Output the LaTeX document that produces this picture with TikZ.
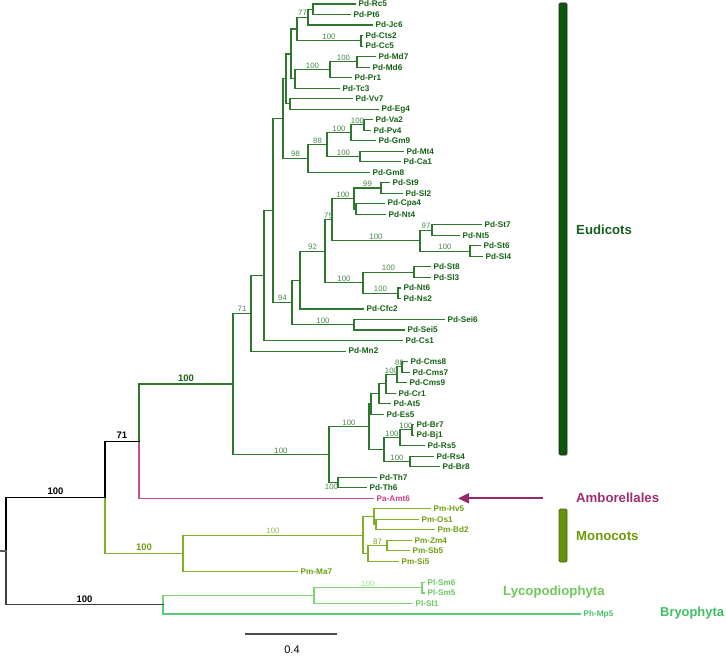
\documentclass[tikz,border=0pt]{standalone}
\usepackage{fontspec}
\setmainfont{Liberation Sans}
\usetikzlibrary{calc,arrows.meta}
\definecolor{eud}{RGB}{45,120,45}
\definecolor{eudt}{RGB}{20,98,20}
\definecolor{eudb}{RGB}{70,135,70}
\definecolor{eudbar}{RGB}{10,88,10}
\definecolor{eudlab}{RGB}{22,95,30}
\definecolor{amb}{RGB}{200,80,140}
\definecolor{ambt}{RGB}{190,65,130}
\definecolor{amblab}{RGB}{160,45,110}
\definecolor{mon}{RGB}{130,175,40}
\definecolor{mont}{RGB}{110,160,15}
\definecolor{monlab}{RGB}{105,155,5}
\definecolor{monbar}{RGB}{100,148,10}
\definecolor{monb}{RGB}{150,190,90}
\definecolor{lyc}{RGB}{125,212,115}
\definecolor{lyct}{RGB}{105,200,95}
\definecolor{lycb}{RGB}{155,222,145}
\definecolor{bry}{RGB}{85,205,120}
\definecolor{bryt}{RGB}{70,195,105}
\newcommand\bsl[4][bs]{\node[#1] (b-#3) at ($(#2 |- #3)!0.5!(#3)$) {#4};}
\begin{document}
\begin{tikzpicture}[x=1pt,y=-1pt,
  tree/.style={line width=1.1pt,line cap=rect},
  eudl/.style={tree,draw=eud},
  ambl/.style={tree,draw=amb},
  monl/.style={tree,draw=mon},
  lycl/.style={tree,draw=lyc},
  bryl/.style={tree,draw=bry},
  blkl/.style={line width=1.3pt,line cap=rect,draw=black},
  lab/.style={anchor=west,inner sep=0pt,xshift=3.5pt,font=\fontsize{8.2}{9}\selectfont\bfseries},
  bs/.style={anchor=south,inner sep=0pt,yshift=1.2pt,font=\fontsize{7.8}{8}\selectfont,text=eudb},
  bsb/.style={anchor=south,inner sep=0pt,yshift=2.5pt,font=\fontsize{9.5}{10}\selectfont\bfseries,text=black},
  clade/.style={anchor=west,inner sep=0pt,font=\fontsize{13.2}{14}\selectfont\bfseries},
  bar/.style={draw,rounded corners=1.5pt,line width=0.8pt,minimum width=8pt,inner sep=0pt}]
\useasboundingbox (0,0) rectangle (726,658);

% ---------- leaves ----------
\foreach \n/\x/\y/\t in {Rc5/355/4.00/Pd-Rc5, Pt6/350/14.52/Pd-Pt6, Jc6/372/25.03/Pd-Jc6,
  Cts2/362/35.55/Pd-Cts2, Cc5/362/46.07/Pd-Cc5, Md7/375/56.59/Pd-Md7, Md6/369/67.10/Pd-Md6,
  Pr1/351/77.62/Pd-Pr1, Tc3/339/88.14/Pd-Tc3, Vv7/352/98.65/Pd-Vv7, Eg4/378/109.17/Pd-Eg4,
  Va2/372/119.69/Pd-Va2, Pv4/370/130.20/Pd-Pv4, Gm9/375/140.72/Pd-Gm9, Mt4/403/151.24/Pd-Mt4,
  Ca1/400/161.76/Pd-Ca1, Gm8/369/172.27/Pd-Gm8, St9/389/182.79/Pd-St9, Sl2/402/193.31/Pd-Sl2,
  Cpa4/384/203.82/Pd-Cpa4, Nt4/385/214.34/Pd-Nt4, St7/481/224.86/Pd-St7, Nt5/459/235.37/Pd-Nt5,
  St6/480/245.89/Pd-St6, Sl4/482/256.41/Pd-Sl4, St8/430/266.93/Pd-St8, Sl3/430/277.44/Pd-Sl3,
  Nt6/400/287.96/Pd-Nt6, Ns2/400/298.48/Pd-Ns2, Cfc2/363/308.99/Pd-Cfc2, Sei6/444/319.51/Pd-Sei6,
  Sei5/404/330.03/Pd-Sei5, Cs1/402/340.54/Pd-Cs1, Mn2/345/351.06/Pd-Mn2, Cms8/407/361.58/Pd-Cms8,
  Cms7/409/372.10/Pd-Cms7, Cms9/406/382.61/Pd-Cms9, Cr1/395/393.13/Pd-Cr1, At5/390/403.65/Pd-At5,
  Es5/383/414.16/Pd-Es5, Br7/413/424.68/Pd-Br7, Bj1/413/435.20/Pd-Bj1, Rs5/424/445.71/Pd-Rs5,
  Rs4/433/456.23/Pd-Rs4, Br8/439/466.75/Pd-Br8, Th7/376/477.27/Pd-Th7, Th6/366/487.78/Pd-Th6}
  {\coordinate (\n) at (\x,\y); \node[lab,text=eudt] (\n-t) at (\n) {\t};}
\coordinate (Amt6) at (373,498.30); \node[lab,text=ambt] (Amt6-t) at (Amt6) {Pa-Amt6};
\foreach \n/\x/\y/\t in {Hv5/430/508.82/Pm-Hv5, Os1/418/519.33/Pm-Os1, Bd2/434/529.85/Pm-Bd2,
  Zm4/411/540.37/Pm-Zm4, Sb5/409/550.88/Pm-Sb5, Si5/398/561.40/Pm-Si5, Ma7/297/571.92/Pm-Ma7}
  {\coordinate (\n) at (\x,\y); \node[lab,text=mont] (\n-t) at (\n) {\t};}
\foreach \n/\x/\y/\t in {Sm6/424/582.43/Pl-Sm6, Sm5/424/592.95/Pl-Sm5, Sl1/412/603.47/Pl-Sl1}
  {\coordinate (\n) at (\x,\y); \node[lab,text=lyct] (\n-t) at (\n) {\t};}
\coordinate (Mp5) at (580,613.99); \node[lab,text=bryt] (Mp5-t) at (Mp5) {Ph-Mp5};

% ---------- internal nodes ----------
\coordinate (nRP) at (313,9.26);   \coordinate (n77) at (308,17.15);
\coordinate (nCC) at (361,40.81);  \coordinate (n297) at (297,28.98);
\coordinate (nMd) at (357,61.85);  \coordinate (nMP) at (330,69.73);
\coordinate (n295) at (295,78.94); \coordinate (nP) at (291,53.96);
\coordinate (nVE) at (290,103.91); \coordinate (nQ) at (286,78.94);
\coordinate (nVP) at (364,124.95); \coordinate (nVG) at (351,132.83);
\coordinate (nMC) at (360,156.50); \coordinate (n88) at (327,144.67);
\coordinate (n98) at (308,158.47); \coordinate (n283) at (283,118.70);
\coordinate (nSS) at (381,188.05); \coordinate (nCN) at (356,209.08);
\coordinate (n100c) at (354,198.57);
\coordinate (n97) at (432,230.11); \coordinate (nS6) at (470,251.15);
\coordinate (n100d) at (420,240.63); \coordinate (n75) at (332,219.60);
\coordinate (nS8) at (414,272.18); \coordinate (nNN) at (398,293.22);
\coordinate (n100b) at (363,282.70); \coordinate (n92) at (325,251.15);
\coordinate (n300) at (300,280.07); \coordinate (nSei) at (354,324.77);
\coordinate (n94) at (292,302.42); \coordinate (n273) at (273,210.56);
\coordinate (n264) at (264,275.55); \coordinate (n71e) at (251,313.31);
\coordinate (nC87) at (402,366.84); \coordinate (nCms) at (397,374.73);
\coordinate (nCr) at (386,383.93); \coordinate (nAt) at (379,393.79);
\coordinate (nEs) at (371,403.98); \coordinate (nBB) at (412,429.94);
\coordinate (nBR) at (400,437.83); \coordinate (nRB) at (410,461.49);
\coordinate (nBr) at (384,449.66); \coordinate (nBrass) at (369,426.82);
\coordinate (nTh) at (338,482.53); \coordinate (n329) at (329,454.68);
\coordinate (nEud) at (233,384.0); \coordinate (n71) at (139,441.15);
\coordinate (nM1b) at (376,524.59); \coordinate (nM1) at (374,516.7);
\coordinate (nZS) at (387,545.63); \coordinate (nZSS) at (368,553.51);
\coordinate (nPoa) at (363,535.1); \coordinate (nMono) at (183,553.5);
\coordinate (nA) at (105,497.3);
\coordinate (nSm) at (422,587.69); \coordinate (nLy) at (314,595.58);
\coordinate (nLB) at (163,604.79);
\coordinate (root) at (6,551.05); \coordinate (stub) at (0,551.05);

% ---------- branches ----------
\foreach \p/\c in {nRP/Rc5, nRP/Pt6, n77/nRP, n77/Jc6, nCC/Cts2, nCC/Cc5, n297/n77, n297/nCC,
  nMd/Md7, nMd/Md6, nMP/nMd, nMP/Pr1, n295/nMP, n295/Tc3, nP/n297, nP/n295, nVE/Vv7, nVE/Eg4,
  nQ/nP, nQ/nVE, nVP/Va2, nVP/Pv4, nVG/nVP, nVG/Gm9, nMC/Mt4, nMC/Ca1, n88/nVG, n88/nMC,
  n98/n88, n98/Gm8, n283/nQ, n283/n98, nSS/St9, nSS/Sl2, nCN/Cpa4, nCN/Nt4, n100c/nSS, n100c/nCN,
  n97/St7, n97/Nt5, nS6/St6, nS6/Sl4, n100d/n97, n100d/nS6, n75/n100c, n75/n100d, nS8/St8, nS8/Sl3,
  nNN/Nt6, nNN/Ns2, n100b/nS8, n100b/nNN, n92/n75, n92/n100b, n300/n92, n300/Cfc2, nSei/Sei6,
  nSei/Sei5, n94/n300, n94/nSei, n273/n283, n273/n94, n264/n273, n264/Cs1, n71e/n264, n71e/Mn2,
  nC87/Cms8, nC87/Cms7, nCms/nC87, nCms/Cms9, nCr/nCms, nCr/Cr1, nAt/nCr, nAt/At5, nEs/nAt, nEs/Es5,
  nBB/Br7, nBB/Bj1, nBR/nBB, nBR/Rs5, nRB/Rs4, nRB/Br8, nBr/nBR, nBr/nRB, nBrass/nEs, nBrass/nBr,
  nTh/Th7, nTh/Th6, n329/nBrass, n329/nTh, nEud/n71e, nEud/n329, n71/nEud}
  {\draw[eudl] (\p) |- (\c);}
\draw[ambl] (n71) |- (Amt6);
\foreach \p/\c in {nM1b/Os1, nM1b/Bd2, nM1/Hv5, nM1/nM1b, nZS/Zm4, nZS/Sb5, nZSS/nZS, nZSS/Si5,
  nPoa/nM1, nPoa/nZSS, nMono/nPoa, nMono/Ma7, nA/nMono}
  {\draw[monl] (\p) |- (\c);}
\foreach \p/\c in {nSm/Sm6, nSm/Sm5, nLy/nSm, nLy/Sl1, nLB/nLy}
  {\draw[lycl] (\p) |- (\c);}
\draw[bryl] (nLB) |- (Mp5);
\draw[blkl] (nA) |- (n71);
\draw[blkl] (root) |- (nA);
\draw[blkl,draw=black!75] (root) |- (nLB);
\draw[blkl,draw=black!65] (stub) -- (root);

% ---------- support values ----------
\bsl{n297}{n77}{77}
\bsl{n297}{nCC}{100}
\bsl{nMP}{nMd}{100}
\bsl{n295}{nMP}{100}
\bsl{nVG}{nVP}{100}
\bsl{n88}{nVG}{100}
\bsl{n88}{nMC}{100}
\bsl{n98}{n88}{88}
\bsl{n283}{n98}{98}
\bsl{n100c}{nSS}{99}
\bsl{n75}{n100c}{100}
\bsl{n100d}{n97}{97}
\bsl{n100d}{nS6}{100}
\bsl{n75}{n100d}{100}
\bsl{n92}{n75}{75}
\bsl{n100b}{nS8}{100}
\bsl{n100b}{nNN}{100}
\bsl{n92}{n100b}{100}
\bsl{n300}{n92}{92}
\bsl{n94}{nSei}{100}
\bsl{n273}{n94}{94}
\bsl{nEud}{n71e}{71}
\bsl{nCms}{nC87}{88}
\bsl{nCr}{nCms}{100}
\bsl{nBR}{nBB}{100}
\bsl{nBr}{nBR}{100}
\bsl{nBr}{nRB}{100}
\bsl{n329}{nBrass}{100}
\bsl{nEud}{n329}{100}
\node[bs,anchor=center,yshift=0pt] (b-nTh) at (331.5,488) {100};
\bsl[bsb,text=eudt]{n71}{nEud}{100}
\bsl[bsb]{nA}{n71}{71}
\bsl[bsb]{root}{nA}{100}
\bsl[bsb]{root}{nLB}{100}
\bsl[bsb,text=mont]{nA}{nMono}{100}
\bsl[bs,text=monb]{nMono}{nPoa}{100}
\bsl[bs,text=mont]{nZSS}{nZS}{87}
\bsl[bs,text=lycb]{nLy}{nSm}{100}

% ---------- clade bars and names ----------
\node[bar,fill=eudbar,draw=black!85,minimum height=452pt] (barE) at (563,229) {};
\node[bar,fill=monbar,draw={rgb,255:red,70;green,105;blue,15},minimum height=53pt] (barM) at (563,535.5) {};
\node[clade,text=eudlab] (cEud) at (576,230) {Eudicots};
\node[clade,text=amblab] (cAmb) at (576,498) {Amborellales};
\node[clade,text=monlab] (cMon) at (576,536) {Monocots};
\node[clade,text={rgb,255:red,110;green,200;blue,90}] (cLyc) at (503,592) {Lycopodiophyta};
\node[clade,font=\fontsize{12.9}{14}\selectfont\bfseries,text={rgb,255:red,60;green,190;blue,100}] (cBry) at (660,613) {Bryophyta};
\coordinate (arS) at (543,498.3);
\coordinate (arE) at (458,498.3);
\draw[draw={rgb,255:red,150;green,40;blue,105},line width=2pt,-{Triangle[length=11pt,width=10pt]}] (arS) -- (arE);

% ---------- scale bar ----------
\coordinate (sbL) at (245,634);
\coordinate (sbR) at (337,634);
\draw[line width=1.4pt,draw=black!70] (sbL) -- (sbR);
\node[inner sep=0pt,font=\fontsize{11}{12}\selectfont] (sbT) at (292,650) {0.4};
\end{tikzpicture}
\end{document}
